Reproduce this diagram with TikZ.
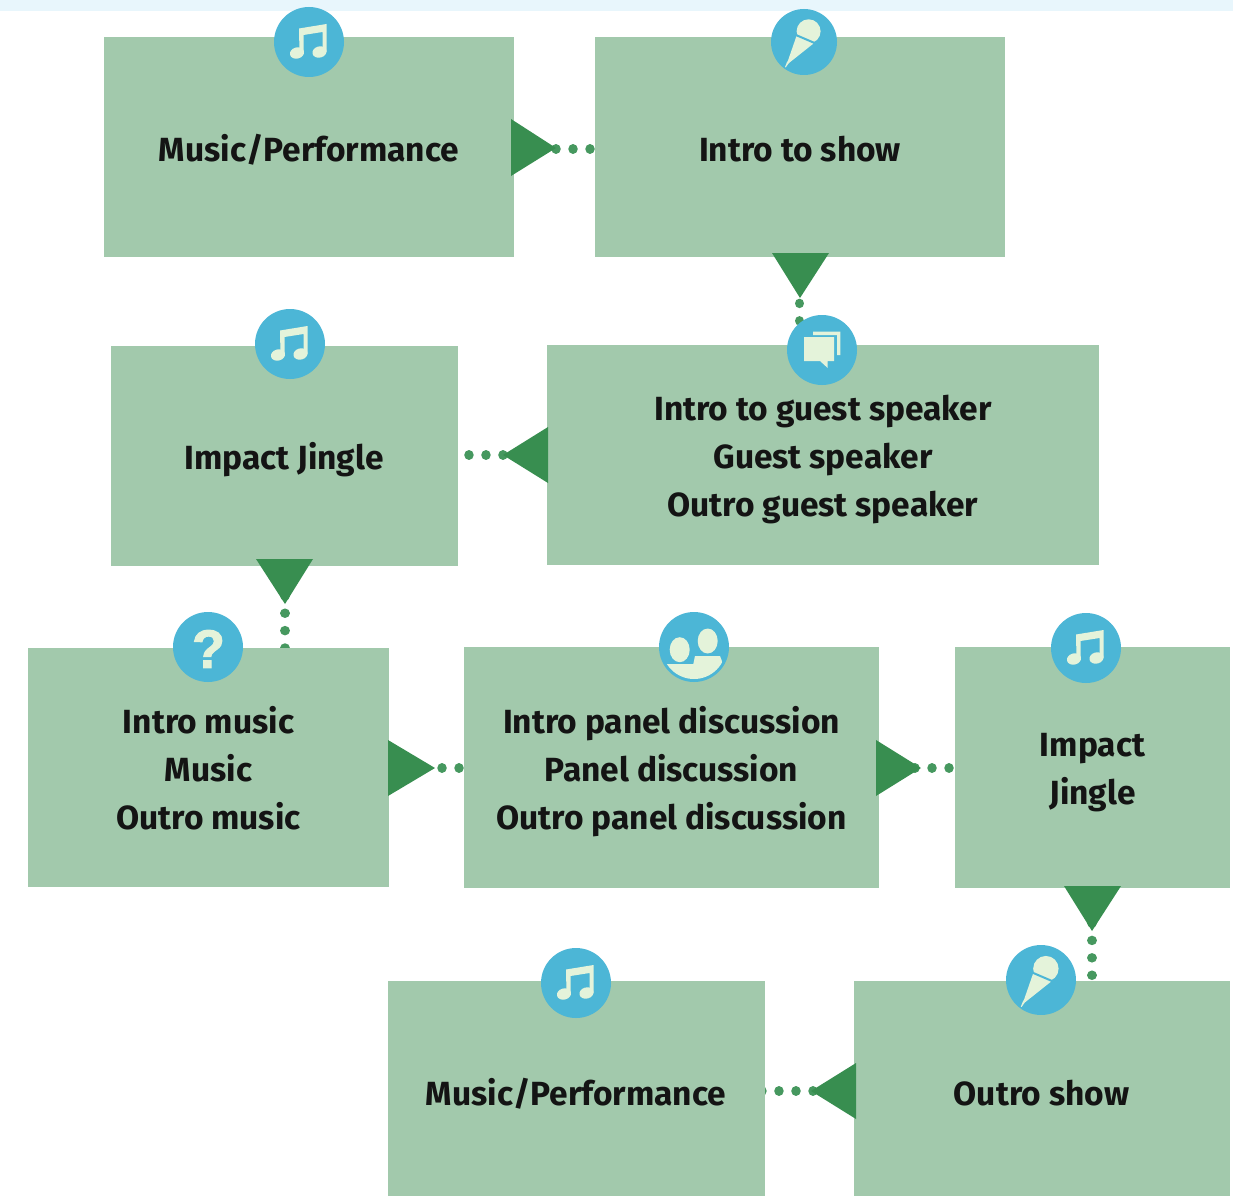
\documentclass[tikz,border=0pt]{standalone}
\usepackage{fontspec}
\setmainfont{Fira Sans}
\newfontfamily\askfont{Liberation Sans}[BoldFeatures={FakeBold=2}]
\definecolor{boxgreen}{HTML}{A2C9AC}
\definecolor{trigreen}{HTML}{388E50}
\definecolor{dotgreen}{HTML}{46985F}
\definecolor{iconblue}{HTML}{4CB6D6}
\definecolor{iconpale}{HTML}{E4F3DA}
\definecolor{strip}{HTML}{E8F6FC}
\pgfdeclarelayer{under}
\pgfsetlayers{under,main}
\tikzset{
  x=1pt,y=-1pt,
  stagebox/.style={fill=boxgreen,inner sep=0pt},
  stagetext/.style={inner sep=0pt,align=center,text=black!92,
    font=\fontsize{33.5}{48}\selectfont\bfseries},
  tri/.style={fill=trigreen},
  dotsh/.style={draw=dotgreen,line width=9.5pt,line cap=round,dash pattern=on 0.01pt off 17pt},
  dotsv/.style={draw=dotgreen,line width=9.5pt,line cap=round,dash pattern=on 0.01pt off 17.4pt},
  disc/.style={fill=iconblue},
  glyph/.style={fill=iconpale},
  music/.pic={
    \fill[disc] (0,0) circle (35);
    \fill[glyph] (-10,-13.5) -- (17.5,-18) -- (17.5,10) -- (13.5,10) -- (13.5,-10) -- (-5.5,-7) -- (-5.5,11) -- (-9.5,11) -- cycle;
    \fill[glyph] (-12,11) circle [x radius=7.2,y radius=5.6,rotate=15];
    \fill[glyph] (10.5,10) circle [x radius=7.2,y radius=5.6,rotate=15];
  },
  mic/.pic={
    \fill[disc] (0,0) circle (33);
    \fill[glyph] (-7.5,-6) -- (9.5,1.5) -- (-13.8,20) -- (-15.5,21.5) -- (-18.3,25.5) -- (-19,25) -- (-17.2,20.5) -- (-16,18.5) -- cycle;
    \fill[glyph] (4.6,-10.7) circle (12);
    \draw[iconblue,line width=2pt] (-9.5,-7.6) -- (11,1.2);
  },
  speech/.pic={
    \fill[disc] (0,0) circle (35);
    \fill[glyph] (-9,-18.3) -- (18.3,-18.3) -- (18.3,5) -- (15,5) -- (15,-15) -- (-9,-15) -- cycle;
    \fill[glyph] (-18,-13) -- (12,-13) -- (12,11) -- (5.7,11) -- (5.7,18) -- (-2,11) -- (-18,11) -- cycle;
  },
  duo/.pic={
    \fill[disc] (0,0) circle (35);
    \fill[glyph] (-14.3,2.7) ellipse [x radius=10,y radius=12.5];
    \fill[glyph] (13.7,-6) ellipse [x radius=10,y radius=12.5];
    \begin{scope}
      \clip (0,0) circle (32);
      \fill[glyph] (-30,17) -- (-0.7,17) -- (1,9) -- (26,9) -- (31,22) -- (31,40) -- (-30,40) -- cycle;
    \end{scope}
  },
  askicon/.style={text=iconpale,inner sep=0pt,font=\fontsize{54}{54}\askfont\bfseries},
}
\begin{document}
\begin{tikzpicture}
\useasboundingbox (0,0) rectangle (1233,1196);
% stages
\node[stagebox,minimum width=410pt,minimum height=220pt] (b1) at (309,147) {};
\node[stagebox,minimum width=410pt,minimum height=220pt] (b2) at (800,147) {};
\node[stagebox,minimum width=552pt,minimum height=220pt] (b3) at (823,455) {};
\node[stagebox,minimum width=347pt,minimum height=220pt] (b4) at (284.5,456) {};
\node[stagebox,minimum width=361pt,minimum height=239pt] (b5) at (208.5,767.5) {};
\node[stagebox,minimum width=415pt,minimum height=241pt] (b6) at (671.5,767.5) {};
\node[stagebox,minimum width=275pt,minimum height=241pt] (b7) at (1092.5,767.5) {};
\node[stagebox,minimum width=377pt,minimum height=215pt] (b8) at (576.5,1088.5) {};
\node[stagebox,minimum width=376pt,minimum height=215pt] (b9) at (1042,1088.5) {};
\node[stagetext] (t1) at (309,149.5) {Music/Performance};
\node[stagetext] (t2) at (800,149.5) {Intro to show};
\node[stagetext] (t3) at (823,459.5) {Intro to guest speaker\\Guest speaker\\Outro guest speaker};
\node[stagetext] (t4) at (284,459.5) {Impact Jingle};
\node[stagetext] (t5) at (208.5,768.5) {Intro music\\Music\\Outro music};
\node[stagetext] (t6) at (671.5,771.5) {Intro panel discussion\\Panel discussion\\Outro panel discussion};
\node[stagetext] (t7) at (1092.5,773) {Impact\\Jingle};
\node[stagetext] (t8) at (576,1093.5) {Music/Performance};
\node[stagetext] (t9) at (1041.5,1093) {Outro show};
% dot start points
\coordinate (s1) at (556,149);
\coordinate (s2) at (799.5,286);
\coordinate (s3) at (503,455);
\coordinate (s4) at (285,595.8);
\coordinate (s5) at (425,768);
\coordinate (s6) at (915,768);
\coordinate (s7) at (1092,923);
\coordinate (s8) at (813,1091);
\begin{pgfonlayer}{under}
  \fill[white] (0,0) rectangle (1233,1196);
  \fill[strip] (0,0) rectangle (1233,11);
  \draw[dotsh] (s1) -- (s1 -| b2.west);
  \draw[dotsv] (s2) -- (s2 |- b3.north);
  \draw[dotsh] (s3) -- (s3 -| b4.east);
  \draw[dotsv] (s4) -- (s4 |- b5.center);
  \draw[dotsh] (s5) -- (s5 -| b6.west);
  \draw[dotsh] (s6) -- (s6 -| b7.west);
  \draw[dotsv] (s7) -- (s7 |- b9.north);
  \draw[dotsh] (s8) -- (s8 -| b8.center);
\end{pgfonlayer}
% arrowheads
\fill[tri] (511,119) -- (556,148) -- (511,176) -- cycle;
\fill[tri] (772,253) -- (800,298) -- (829,253) -- cycle;
\fill[tri] (548,427) -- (503,455) -- (548,483) -- cycle;
\fill[tri] (256,559) -- (285,604) -- (313,559) -- cycle;
\fill[tri] (388,740) -- (435,768) -- (388,796) -- cycle;
\fill[tri] (876,740) -- (921,768) -- (876,796) -- cycle;
\fill[tri] (1064,886) -- (1092,931) -- (1121,886) -- cycle;
\fill[tri] (856,1063) -- (811,1091) -- (856,1119) -- cycle;
% icons
\pic at (309,42) {music};
\pic at (804,42) {mic};
\pic at (822,350) {speech};
\pic at (290,344) {music};
\fill[disc] (208,647) circle (35);
\node[askicon] (ask) at (208.5,649) {?};
\pic at (694,647) {duo};
\pic at (1086,648) {music};
\pic at (576,983) {music};
\pic[scale=1.06] at (1041,980) {mic};
\end{tikzpicture}
\end{document}
